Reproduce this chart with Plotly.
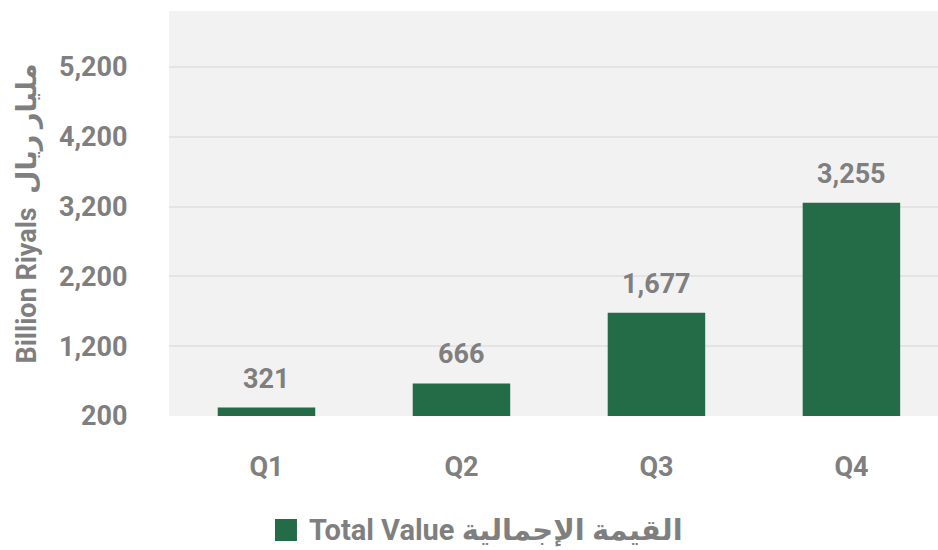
import plotly.graph_objects as go

categories = ["Q1", "Q2", "Q3", "Q4"]
values = [321, 666, 1677, 3255]
tick_vals = [200, 1200, 2200, 3200, 4200, 5200]
tick_text = ["200", "1,200", "2,200", "3,200", "4,200", "5,200"]
series_name = "Total Value القيمة الإجمالية"
y_title = "Billion Riyals  مليار ريال"

GRAY = "#7f7f7f"
GREEN = "#246b47"
FONT = "Roboto, DejaVu Sans, sans-serif"

fig = go.Figure()
fig.add_trace(go.Bar(
    x=categories, y=values, name=series_name,
    marker=dict(color=GREEN, line=dict(width=0)),
    width=0.5, showlegend=False,
))

for c, v in zip(categories, values):
    fig.add_annotation(
        x=c, y=v, text=f"<b>{v:,}</b>", showarrow=False,
        yanchor="bottom", yshift=11,
        font=dict(family=FONT, size=27, color=GRAY),
    )

# legend key (square + label) below the chart
fig.add_shape(
    type="rect", xref="paper", yref="paper",
    x0=0.1378, x1=0.1664, y0=-0.3086, y1=-0.2543,
    fillcolor=GREEN, line=dict(width=0),
)
fig.add_annotation(
    xref="paper", yref="paper", x=0.1795, y=-0.2815,
    xanchor="left", yanchor="middle", showarrow=False,
    text=f"<b>{series_name}</b>",
    font=dict(family=FONT, size=29, color=GRAY),
)

fig.update_layout(
    width=938, height=550,
    margin=dict(l=169, r=0, t=11, b=134),
    paper_bgcolor="white",
    plot_bgcolor="#f2f2f2",
    font=dict(family=FONT, color=GRAY),
    showlegend=False,
    xaxis=dict(
        range=[-0.5, 3.444],
        showgrid=False, zeroline=False, showline=False,
        ticks="outside", ticklen=27, tickcolor="rgba(0,0,0,0)",
        tickfont=dict(family=FONT, size=27, color=GRAY, weight="bold"),
    ),
    yaxis=dict(
        range=[200, 6000],
        tickvals=tick_vals, ticktext=tick_text,
        showgrid=True, gridcolor="#e4e4e4", gridwidth=1.5,
        zeroline=False, showline=False,
        ticks="outside", ticklen=35, tickcolor="rgba(0,0,0,0)",
        tickfont=dict(family=FONT, size=27, color=GRAY, weight="bold"),
        title=dict(text=y_title, standoff=14,
                   font=dict(family=FONT, size=27, color=GRAY, weight="bold")),
    ),
)

fig.write_html("out.html", config={"displayModeBar": False},
               post_script="document.body.style.margin='0';")
